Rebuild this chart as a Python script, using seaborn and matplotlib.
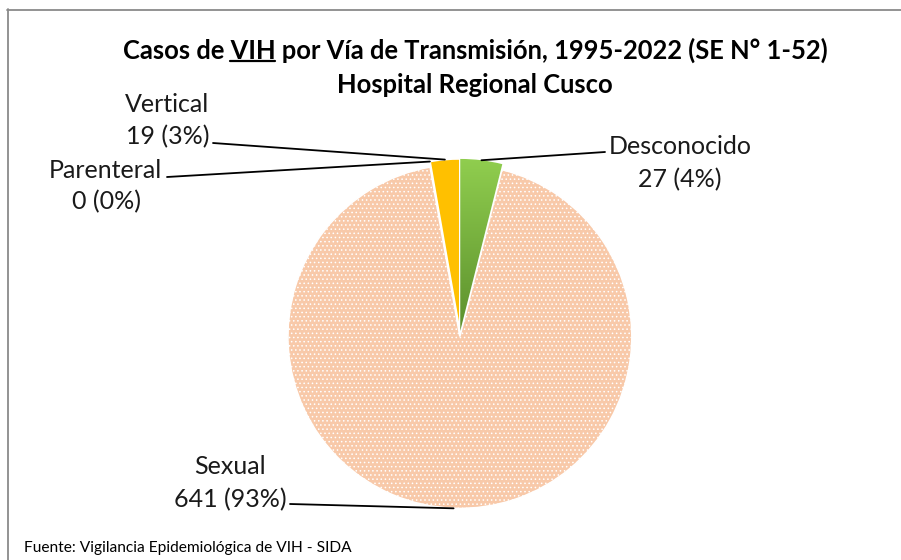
import numpy as np
import matplotlib
matplotlib.use("Agg")
import matplotlib.pyplot as plt
import matplotlib.colors as mcolors
from matplotlib.lines import Line2D
import seaborn as sns

# ---- data ----
categories = ["Desconocido", "Sexual", "Parenteral", "Vertical"]
casos = [27, 641, 0, 19]
title_line1 = "Casos de VIH por Vía de Transmisión, 1995-2022 (SE N° 1-52)"
title_line2 = "Hospital Regional Cusco"
footer = "Fuente: Vigilancia Epidemiológica de VIH - SIDA"

sns.set_theme(style="white")
plt.rcParams["font.family"] = ["Lato", "DejaVu Sans"]
plt.rcParams["hatch.linewidth"] = 0.6

W, H = 901, 560
fig = plt.figure(figsize=(W / 100, H / 100), dpi=100)
fig.patch.set_facecolor("white")

def fx(x):
    return x / W

def fy(y):
    return 1 - y / H

# border of chart area
fig.add_artist(Line2D([fx(7), 1.0], [fy(9.5), fy(9.5)], color="#8a8a8a", lw=1.3))
fig.add_artist(Line2D([fx(7.5), fx(7.5)], [fy(9), 0.0], color="#8a8a8a", lw=1.3))

# ---- pie axes: center (460, 333), radius 172 px ----
cx, cy, R = 460, 333, 172
k = 1.25
ax = fig.add_axes([fx(cx - R * k), fy(cy + R * k), 2 * R * k / W, 2 * R * k / H])
colors = ["#8CCB4E", "#F8C9A9", "#A5A5A5", "#FFC000"]
explode = [0.012, 0.02, 0.012, 0.012]
wedges, _ = ax.pie(casos, colors=colors, startangle=90, counterclock=False,
                   explode=explode, radius=1.0,
                   wedgeprops=dict(edgecolor="white", linewidth=1.2))
ax.set_aspect("equal")
ax.axis("off")

# texture for sexual wedge
wedges[1].set_hatch("....")

# gradient for Desconocido wedge
g = wedges[0]
grad_cmap = mcolors.LinearSegmentedColormap.from_list("g", ["#5B8F2C", "#92D050"])
grad = np.linspace(0, 1, 256).reshape(-1, 1)
im = ax.imshow(grad, cmap=grad_cmap, origin="lower", extent=[-0.05, 0.3, 0.0, 1.05],
               aspect="auto", zorder=g.get_zorder() + 0.1)
im.set_clip_path(g)
ax.set_xlim(-k, k)
ax.set_ylim(-k, k)

# ---- labels with leader lines ----
total = sum(casos)
label_pos = {
    # name: (line1 center x, line1 y, line2 center x, line2 y, leader start x, y)
    "Desconocido": (680, 147, 680, 180, 605, 152),
    "Sexual": (230, 467, 230, 500, 290, 504),
    "Parenteral": (105, 170, 107, 202, 167, 177),
    "Vertical": (167, 104, 168, 137, 213, 143),
}
angle = 90.0
for w, name, val in zip(wedges, categories, casos):
    span = val / total * 360
    mid = np.deg2rad(angle - span / 2)
    angle -= span
    ex = explode[categories.index(name)]
    px = (1.0 + ex) * np.cos(mid)
    py = (1.0 + ex) * np.sin(mid)
    x1, y1, x2, y2, lx, ly = label_pos[name]
    pct = round(100 * val / total)
    fig.text(fx(x1), fy(y1), name, ha="center", va="center", fontsize=18, color="#1a1a1a")
    fig.text(fx(x2), fy(y2), f"{val} ({pct}%)", ha="center", va="center", fontsize=18,
             color="#1a1a1a")
    ax.annotate("", xy=(px, py), xycoords="data",
                xytext=(lx, H - ly), textcoords="figure pixels",
                arrowprops=dict(arrowstyle="-", color="black", lw=1.3,
                                shrinkA=0, shrinkB=0))

# ---- title ----
t1 = fig.text(fx(475), fy(50), title_line1, ha="center", va="center",
              fontsize=18.4, fontweight="bold", color="black")
fig.text(fx(475), fy(85), title_line2, ha="center", va="center",
         fontsize=18.4, fontweight="bold", color="black")

fig.canvas.draw()
r = fig.canvas.get_renderer()
bb = t1.get_window_extent(r)
prop = t1.get_fontproperties()
wpre, _, _ = r.get_text_width_height_descent("Casos de ", prop, ismath=False)
wvih, _, _ = r.get_text_width_height_descent("VIH", prop, ismath=False)
_, _, desc = r.get_text_width_height_descent(title_line1, prop, ismath=False)
base = bb.y0 + desc
ux0 = bb.x0 + wpre
ux1 = ux0 + wvih
fig.add_artist(Line2D([ux0 / W, ux1 / W], [(base - 3) / H, (base - 3) / H],
                      color="black", lw=1.6))

# ---- footer ----
fig.text(fx(24), fy(548), footer, ha="left", va="center", fontsize=11.2, color="black")

fig.savefig("out.png", dpi=100, facecolor="white")
